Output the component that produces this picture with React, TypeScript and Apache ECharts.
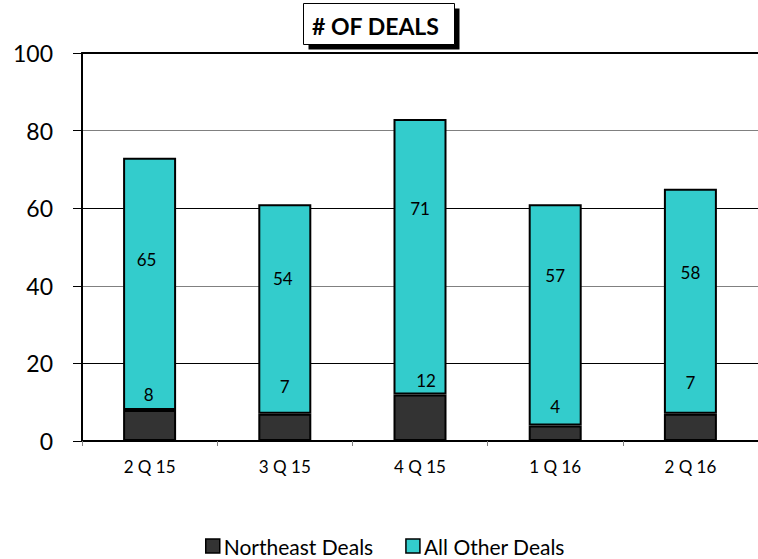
import React, { useEffect, useRef } from "react";
import * as echarts from "echarts";

const categories = ["2 Q 15", "3 Q 15", "4 Q 15", "1 Q 16", "2 Q 16"];
const northeastDeals = [8, 7, 12, 4, 7];
const allOtherDeals = [65, 54, 71, 57, 58];
const yTicks = [0, 20, 40, 60, 80, 100];

// label style offsets (presentation only)
const northeastLabelOffsets = [[-1, -2], [0, -14], [6, 0], [0, -5], [0, -18]];
const otherLabelOffsets = [[-3, -24], [-2, -31], [0, -48], [0, -39], [0, -29]];

const FONT = "Lato, 'Open Sans', sans-serif";

export default function App() {
  const ref = useRef<HTMLDivElement>(null);
  useEffect(() => {
    if (!ref.current) return;
    const chart = echarts.init(ref.current, undefined, { renderer: "svg" });
    chart.setOption({
      animation: false,
      backgroundColor: "#ffffff",
      textStyle: { fontFamily: FONT },
      grid: { left: 82, top: 53, width: 679, bottom: 118, containLabel: false },
      legend: {
        left: 200,
        top: 530,
        itemWidth: 14,
        itemHeight: 14,
        itemGap: 32,
        icon: "rect",
        textStyle: { fontSize: 21, lineHeight: 22, color: "#000", fontFamily: FONT, padding: [0, 0, 0, -1] },
        data: [
          { name: "Northeast Deals", itemStyle: { borderColor: "#000", borderWidth: 1.5 } },
          { name: "All Other Deals", itemStyle: { borderColor: "#000", borderWidth: 1.5 } },
        ],
      },
      xAxis: [
        {
          type: "category",
          data: categories,
          axisLine: { show: true, lineStyle: { color: "#000", width: 2 } },
          axisTick: { show: true, length: 5, lineStyle: { color: "#808080" } },
          axisLabel: { fontSize: 17, color: "#000", margin: 17, fontFamily: FONT },
        },
        {
          type: "category",
          position: "top",
          data: categories,
          axisLine: { show: true, lineStyle: { color: "#000", width: 2 } },
          axisTick: { show: false },
          axisLabel: { show: false },
        },
      ],
      yAxis: {
        type: "value",
        min: yTicks[0],
        max: yTicks[yTicks.length - 1],
        interval: 20,
        axisLine: { show: true, lineStyle: { color: "#000", width: 2 } },
        axisTick: { show: true, length: 9, lineStyle: { color: "#000" } },
        axisLabel: { fontSize: 23, color: "#000", margin: 29, fontFamily: FONT },
        splitLine: {
          show: true,
          lineStyle: { color: ["#000", "#000", "#808080", "#000", "#808080", "#000"], width: 1 },
        },
      },
      series: [
        {
          name: "Northeast Deals",
          type: "bar",
          stack: "deals",
          barWidth: 53,
          itemStyle: { color: "#333333", borderColor: "#000", borderWidth: 2 },
          label: { show: true, position: "top", distance: 5, fontSize: 17, color: "#000", fontFamily: FONT },
          data: northeastDeals.map((v, i) => ({
            value: v,
            label: { offset: northeastLabelOffsets[i] },
          })),
          z: 3,
        },
        {
          name: "All Other Deals",
          type: "bar",
          stack: "deals",
          barWidth: 53,
          itemStyle: { color: "#33CCCC", borderColor: "#000", borderWidth: 2 },
          label: { show: true, position: "inside", fontSize: 17, color: "#000", fontFamily: FONT },
          data: allOtherDeals.map((v, i) => ({
            value: v,
            label: { offset: otherLabelOffsets[i] },
          })),
          z: 2,
        },
      ],
      graphic: [
        {
          type: "group",
          left: 303,
          top: 3,
          children: [
            { type: "rect", shape: { x: 5, y: 5, width: 151, height: 41 }, style: { fill: "#000" } },
            {
              type: "rect",
              shape: { x: 0, y: 0, width: 151, height: 41 },
              style: { fill: "#fff", stroke: "#000", lineWidth: 1 },
            },
            {
              type: "text",
              x: 72,
              y: 22,
              style: {
                text: "# OF DEALS",
                fontSize: 23,
                fontWeight: "bold",
                fontFamily: FONT,
                fill: "#000",
                align: "center",
                verticalAlign: "middle",
              },
            },
          ],
        },
      ],
    });
    return () => chart.dispose();
  }, []);
  return <div ref={ref} style={{ width: 758, height: 559, position: "absolute", left: 0, top: 0 }} />;
}
